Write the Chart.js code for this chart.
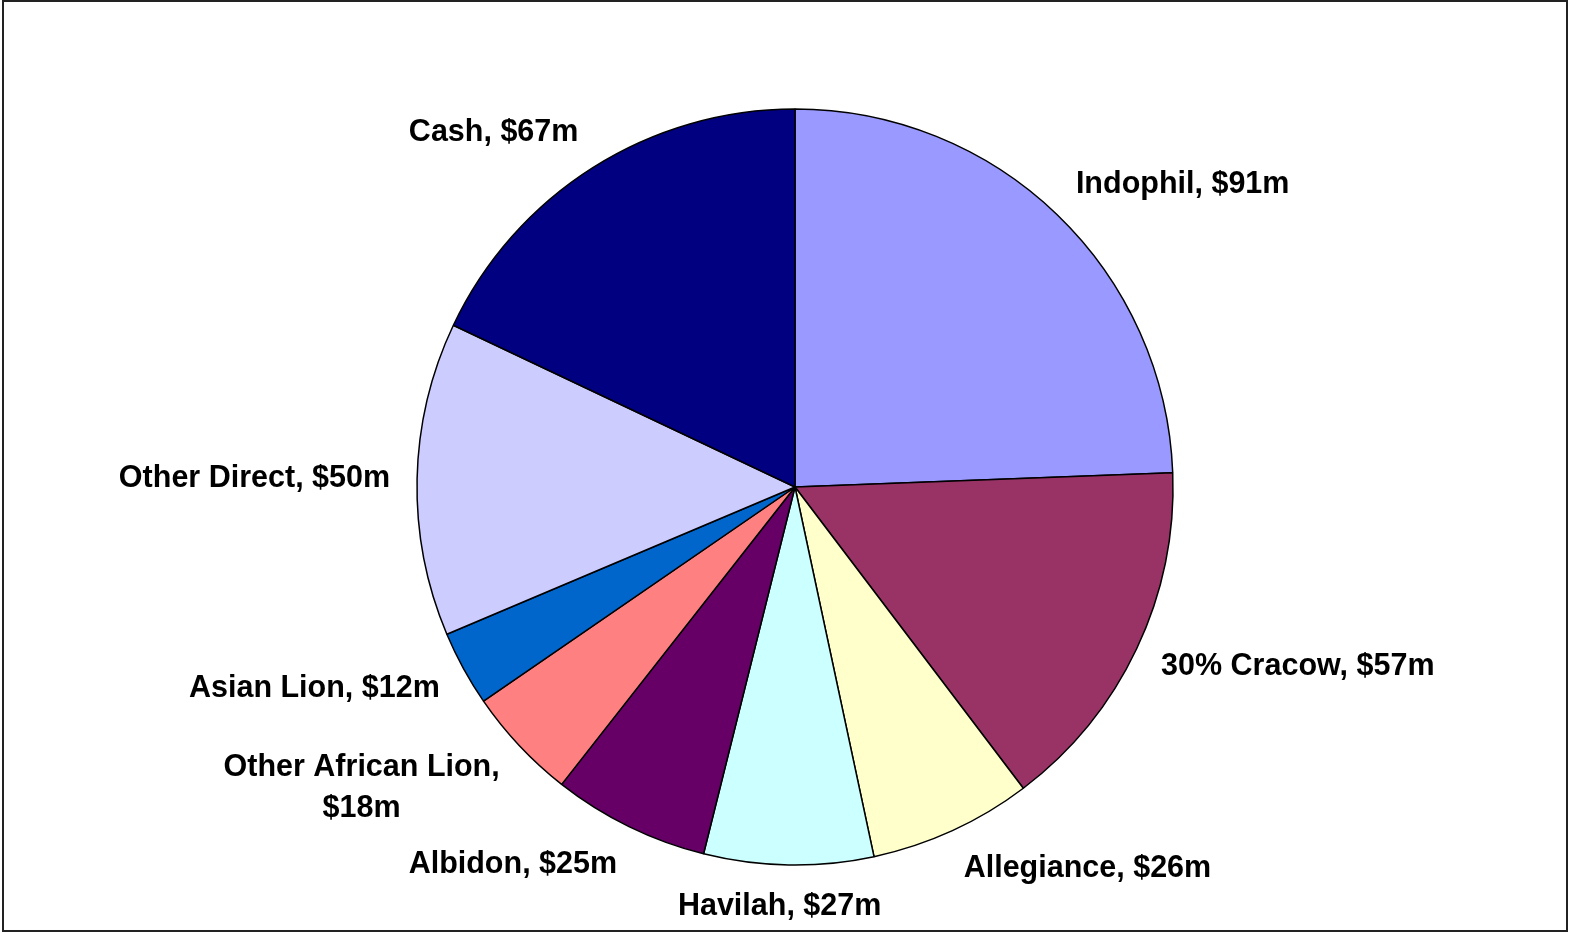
<!DOCTYPE html>
<html>
<head>
<meta charset="utf-8">
<title>Investment breakdown</title>
<script src="https://cdn.jsdelivr.net/npm/chart.js@4.4.1/dist/chart.umd.min.js"></script>
<style>
    html, body { margin: 0; padding: 0; background: #fff; }
    #chart-wrap { position: relative; width: 1569px; height: 933px; }
</style>
</head>
<body>
<div id="chart-wrap"><canvas id="pie-chart"></canvas></div>
<script>
// 1. Chart data (clockwise from 12 o'clock)
const categories = ['Indophil', '30% Cracow', 'Allegiance', 'Havilah', 'Albidon',
                    'Other African Lion', 'Asian Lion', 'Other Direct', 'Cash'];
const values = [91, 57, 26, 27, 25, 18, 12, 50, 67];

// Excel-style palette
const sliceColors = ['#9999FF', '#993366', '#FFFFCC', '#CCFFFF', '#660066',
                     '#FF8080', '#0066CC', '#CCCCFF', '#000080'];

const labelFont = 'bold 30.5px "Liberation Sans", Arial, sans-serif';
const lineGap = 41;

// Break a long label after the comma
function wrapLabel(ctx, text, maxWidth) {
    if (ctx.measureText(text).width <= maxWidth) return [text];
    const cut = text.lastIndexOf(', ');
    return [text.slice(0, cut + 1), text.slice(cut + 2)];
}

// 2. Labels outside the slices, placed from each arc's own geometry
const outsideLabels = {
    id: 'outsideLabels',
    afterDatasetsDraw(chart) {
        const ctx = chart.ctx;
        const meta = chart.getDatasetMeta(0);
        ctx.save();
        ctx.font = labelFont;
        ctx.fillStyle = '#000';
        ctx.textAlign = 'center';
        ctx.textBaseline = 'middle';
        meta.data.forEach(function(arc, i) {
            const lines = wrapLabel(ctx, categories[i] + ', $' + values[i] + 'm', 300);
            const w = Math.max.apply(null, lines.map(function(l) { return ctx.measureText(l).width; }));
            const h = (lines.length - 1) * lineGap + 30;
            const mid = (arc.startAngle + arc.endAngle) / 2;
            const r = arc.outerRadius + 27;
            const ax = arc.x + Math.cos(mid) * r;
            const ay = arc.y + Math.sin(mid) * r;
            const side = Math.max(-1, Math.min(1, Math.cos(mid) * 5));
            const cx = ax + side * w / 2;
            const cy = ay + Math.sin(mid) * h / 2;
            lines.forEach(function(line, j) {
                ctx.fillText(line, cx, cy - h / 2 + 15 + j * lineGap);
            });
        });
        ctx.restore();
    }
};

// 3. Outer frame
const chartFrame = {
    id: 'chartFrame',
    afterDraw(chart) {
        const ctx = chart.ctx;
        ctx.save();
        ctx.strokeStyle = '#222';
        ctx.lineWidth = 2;
        ctx.strokeRect(3, 1, 1564, 930);
        ctx.restore();
    }
};

new Chart(document.getElementById('pie-chart'), {
    type: 'pie',
    data: {
        labels: categories,
        datasets: [{
            data: values,
            backgroundColor: sliceColors,
            borderColor: '#000',
            borderWidth: 1.5,
            radius: 378
        }]
    },
    options: {
        responsive: true,
        maintainAspectRatio: false,
        animation: false,
        events: [],
        layout: {
            padding: { left: 60, right: 39, top: 61, bottom: 20 }
        },
        plugins: {
            legend: { display: false },
            tooltip: { enabled: false }
        }
    },
    plugins: [outsideLabels, chartFrame]
});
</script>
</body>
</html>
